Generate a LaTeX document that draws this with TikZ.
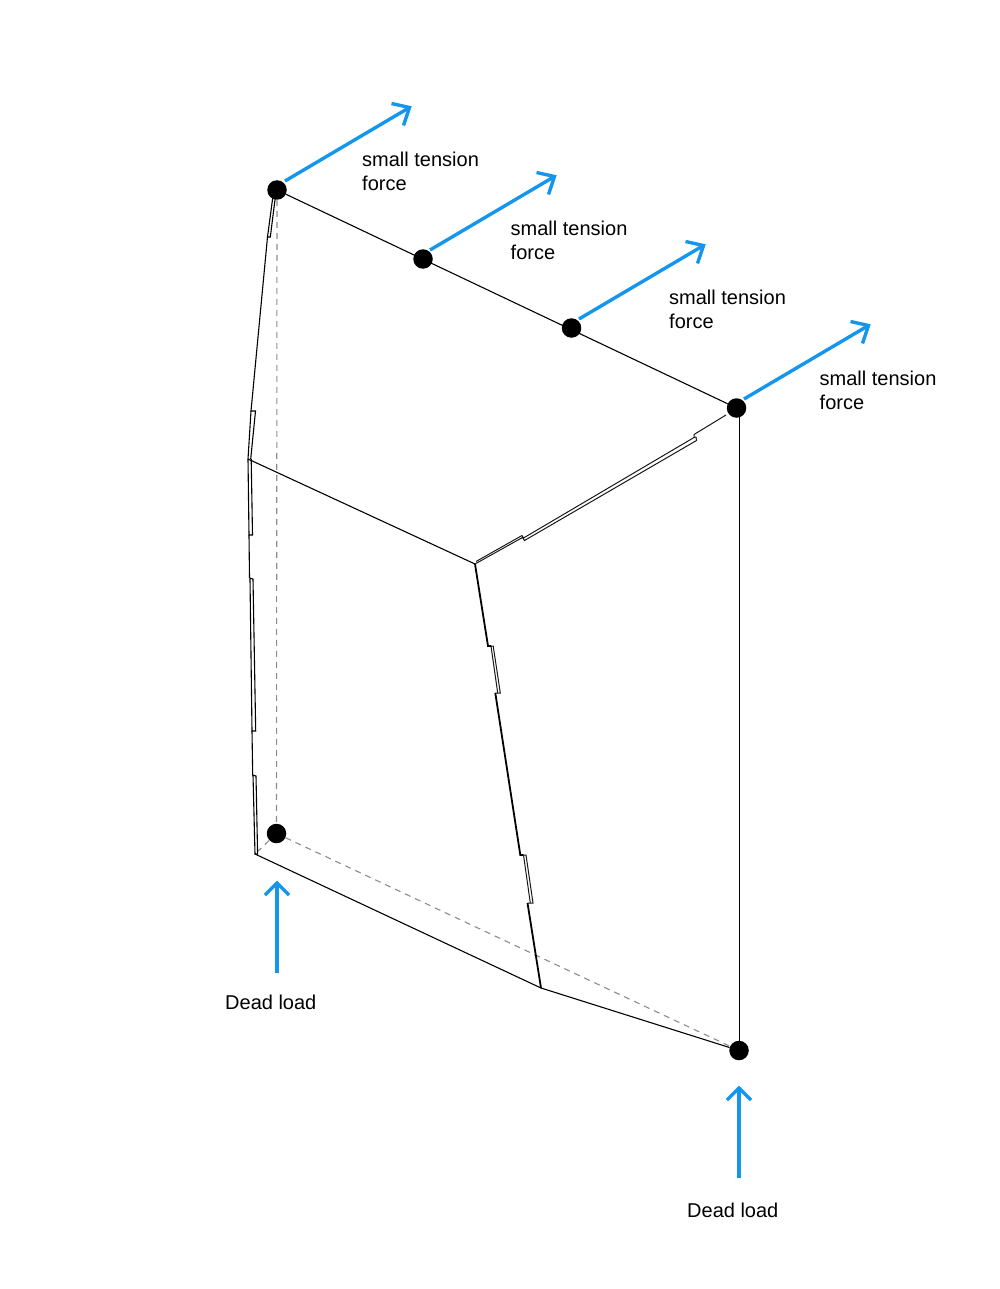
\documentclass[tikz,border=0pt]{standalone}
\usepackage{fontspec}
\setmainfont{Liberation Sans}
\definecolor{forceblue}{HTML}{1496EC}
\definecolor{hidden}{HTML}{8C8C8C}
\tikzset{
  x=1pt,y=-1pt,
  wall/.style={draw=black,line width=1.1pt,line join=miter},
  seam/.style={draw=black!90,line width=1pt},
  heavy/.style={draw=black,line width=1.8pt},
  hiddenline/.style={draw=hidden,line width=1.1pt,dash pattern=on 6pt off 5pt},
  joint/.style={circle,fill=black,inner sep=0pt,minimum size=19.5pt},
  forcearrow/.style={draw=forceblue,line width=3.4pt,line join=miter},
  lbl/.style={anchor=north west,inner sep=0pt,align=left,font=\fontsize{20}{24}\selectfont},
}
\begin{document}
\begin{tikzpicture}
\useasboundingbox (0,0) rectangle (1000,1289);
% joints
\node[joint] (j1) at (277,190) {};
\node[joint] (j2) at (423,259) {};
\node[joint] (j3) at (571.5,328) {};
\node[joint] (j4) at (736.5,408) {};
\node[joint] (b1) at (276.5,833.5) {};
\node[joint] (b2) at (739,1050.5) {};
% geometry points
\coordinate (mL) at (248,459);
\coordinate (mC) at (475,564);
\coordinate (bL) at (255,854);
\coordinate (bC) at (541,988);
\coordinate (vtop) at (739.4,408);
\coordinate (vbot) at (739.4,1050);
% hidden edges
\draw[hiddenline] (j1) -- (b1);
\draw[hiddenline] (b1) -- (bL);
\draw[hiddenline] (b1) -- (b2);
% main edges
\draw[wall] (j1) -- (j4);
\draw[wall] (mL) -- (mC);
\draw[wall] (bL) -- (bC);
\draw[wall] (bC) -- (b2);
\draw[wall,line width=1pt] (vtop) -- (vbot);
% left outer edge
\draw[wall] (272.7,198) -- (267.5,237) -- (270.3,237) -- (275.2,198);
\draw[wall] (267.5,237) -- (251,411) -- (255.5,411) -- (250.7,459);
\draw[wall] (251,411) -- (mL) -- (249,535) -- (252.5,535) -- (251.2,459);
\draw[wall] (249,535) -- (249.5,578) -- (253,579) -- (255.7,731) -- (252,731) -- (250,579);
\draw[wall] (252,731) -- (252.7,775) -- (256,776) -- (257.6,854) -- (bL) -- (253,775);
% right inner seam (upper)
\draw[seam] (mC) -- (522.5,537.5) -- (524.5,540.5) -- (696.5,440.5) -- (696,437);
\draw[seam] (476,561.5) -- (522,535.5) -- (523.5,538) -- (694,437.5) -- (696,437);
\draw[seam] (694,437.5) -- (694,434.5) -- (726,415);
% right inner seam (lower)
\draw[heavy] (mC) -- (488,646) -- (491,646);
\draw[seam] (491,646) -- (493.2,646) -- (500.3,693) -- (495,693);
\draw[seam] (491,646) -- (497.7,693);
\draw[heavy] (495.3,693) -- (520.3,855) -- (523.5,855);
\draw[seam] (523.5,855) -- (526,855) -- (533,903) -- (527.5,903);
\draw[seam] (523.5,855) -- (530.3,903);
\draw[heavy] (527.5,903) -- (bC);
% forces
\coordinate (t1) at (409.5,107.5);
\coordinate (t2) at (554.5,176.5);
\coordinate (t3) at (703.5,245.5);
\coordinate (t4) at (868.5,325.5);
\coordinate (s1) at (285,181);
\coordinate (s2) at (430,250);
\coordinate (s3) at (579,319);
\coordinate (s4) at (744,399);
\coordinate (u1) at (277,973);
\coordinate (v1) at (277,883);
\coordinate (u2) at (739,1178);
\coordinate (v2) at (739,1088);
\draw[forcearrow] (s1) -- (t1);
\draw[forcearrow] (s2) -- (t2);
\draw[forcearrow] (s3) -- (t3);
\draw[forcearrow] (s4) -- (t4);
\draw[forcearrow] (t1) ++(-18,-4) -- (t1) -- ++(-6,18);
\draw[forcearrow] (t2) ++(-18,-4) -- (t2) -- ++(-6,18);
\draw[forcearrow] (t3) ++(-18,-4) -- (t3) -- ++(-6,18);
\draw[forcearrow] (t4) ++(-18,-4) -- (t4) -- ++(-6,18);
\draw[forcearrow] (u1) -- (v1);
\draw[forcearrow] (u2) -- (v2);
\draw[forcearrow] (v1) ++(-12,12) -- (v1) -- ++(12,12);
\draw[forcearrow] (v2) ++(-12,12) -- (v2) -- ++(12,12);
% labels
\node[lbl] (l1) at (362,152) {small tension\\force};
\node[lbl] (l2) at (510.5,221) {small tension\\force};
\node[lbl] (l3) at (669,290) {small tension\\force};
\node[lbl] (l4) at (819.5,370.5) {small tension\\force};
\node[lbl] (d1) at (225,994.5) {Dead load};
\node[lbl] (d2) at (687,1203) {Dead load};
\end{tikzpicture}
\end{document}
